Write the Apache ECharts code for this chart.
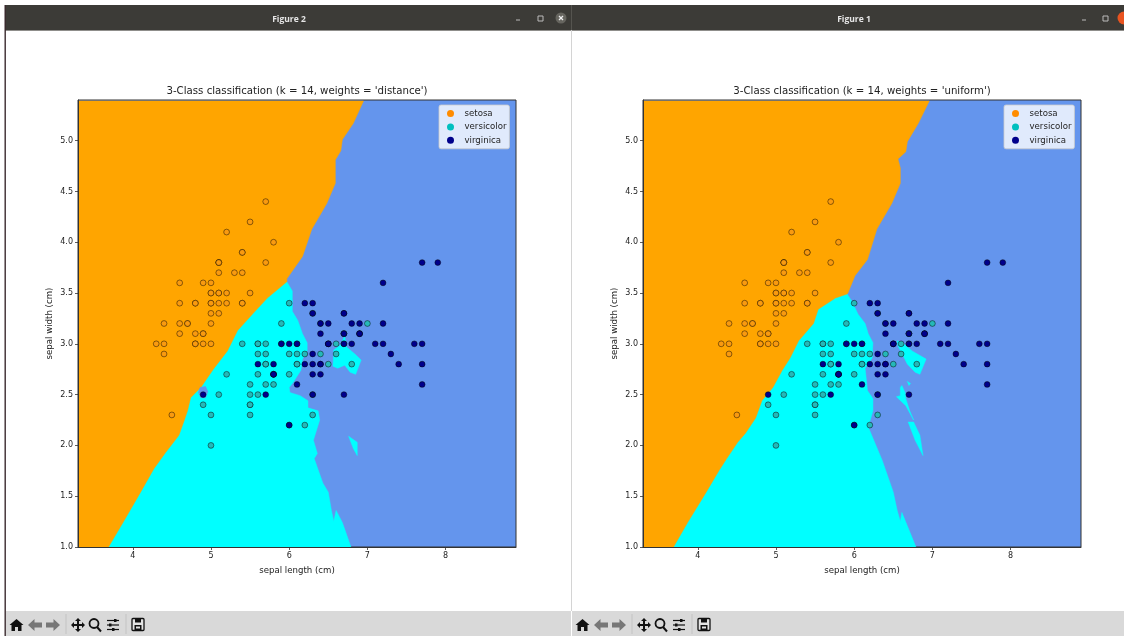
<!DOCTYPE html>
<html><head><meta charset="utf-8">
<style>html,body{margin:0;padding:0;background:#fff;overflow:hidden}#c{width:1124px;height:636px}</style>
<script src="https://cdn.jsdelivr.net/npm/echarts@6/dist/echarts.min.js"></script>
</head><body><div id="c"></div>
<script>
const setosa=[[5.1,3.5],[4.9,3.0],[4.7,3.2],[4.6,3.1],[5.0,3.6],[5.4,3.9],[4.6,3.4],[5.0,3.4],[4.4,2.9],[4.9,3.1],[5.4,3.7],[4.8,3.4],[4.8,3.0],[4.3,3.0],[5.8,4.0],[5.7,4.4],[5.4,3.9],[5.1,3.5],[5.7,3.8],[5.1,3.8],[5.4,3.4],[5.1,3.7],[4.6,3.6],[5.1,3.3],[4.8,3.4],[5.0,3.0],[5.0,3.4],[5.2,3.5],[5.2,3.4],[4.7,3.2],[4.8,3.1],[5.4,3.4],[5.2,4.1],[5.5,4.2],[4.9,3.1],[5.0,3.2],[5.5,3.5],[4.9,3.6],[4.4,3.0],[5.1,3.4],[5.0,3.5],[4.5,2.3],[4.4,3.2],[5.0,3.5],[5.1,3.8],[4.8,3.0],[5.1,3.8],[4.6,3.2],[5.3,3.7],[5.0,3.3]];
const versicolor=[[7.0,3.2],[6.4,3.2],[6.9,3.1],[5.5,2.3],[6.5,2.8],[5.7,2.8],[6.3,3.3],[4.9,2.4],[6.6,2.9],[5.2,2.7],[5.0,2.0],[5.9,3.0],[6.0,2.2],[6.1,2.9],[5.6,2.9],[6.7,3.1],[5.6,3.0],[5.8,2.7],[6.2,2.2],[5.6,2.5],[5.9,3.2],[6.1,2.8],[6.3,2.5],[6.1,2.8],[6.4,2.9],[6.6,3.0],[6.8,2.8],[6.7,3.0],[6.0,2.9],[5.7,2.6],[5.5,2.4],[5.5,2.4],[5.8,2.7],[6.0,2.7],[5.4,3.0],[6.0,3.4],[6.7,3.1],[6.3,2.3],[5.6,3.0],[5.5,2.5],[5.5,2.6],[6.1,3.0],[5.8,2.6],[5.0,2.3],[5.6,2.7],[5.7,3.0],[5.7,2.9],[6.2,2.9],[5.1,2.5],[5.7,2.8]];
const virginica=[[6.3,3.3],[5.8,2.7],[7.1,3.0],[6.3,2.9],[6.5,3.0],[7.6,3.0],[4.9,2.5],[7.3,2.9],[6.7,2.5],[7.2,3.6],[6.5,3.2],[6.4,2.7],[6.8,3.0],[5.7,2.5],[5.8,2.8],[6.4,3.2],[6.5,3.0],[7.7,3.8],[7.7,2.6],[6.0,2.2],[6.9,3.2],[5.6,2.8],[7.7,2.8],[6.3,2.7],[6.7,3.3],[7.2,3.2],[6.2,2.8],[6.1,3.0],[6.4,2.8],[7.2,3.0],[7.4,2.8],[7.9,3.8],[6.4,2.8],[6.3,2.8],[6.1,2.6],[7.7,3.0],[6.3,3.4],[6.4,3.1],[6.0,3.0],[6.9,3.1],[6.7,3.1],[6.9,3.1],[5.8,2.7],[6.8,3.2],[6.7,3.3],[6.7,3.0],[6.3,2.5],[6.5,3.0],[6.2,3.4],[5.9,3.0]];
const xTicks=[4,5,6,7,8];
const yTicks=[1,1.5,2,2.5,3,3.5,4,4.5,5];
const classNames=['setosa','versicolor','virginica'];

// decision regions, in (sepal length, sepal width)
const distOrange=[[3.3,1],[3.3,5.39],[6.95,5.39],[6.82,5.17],[6.68,5.01],[6.66,4.90],[6.59,4.81],[6.59,4.58],[6.48,4.38],[6.29,4.13],[6.17,3.86],[5.97,3.64],[5.97,3.61],[5.72,3.45],[5.54,3.30],[5.34,3.13],[5.21,2.93],[5.03,2.75],[4.87,2.57],[4.74,2.47],[4.70,2.34],[4.66,2.25],[4.59,2.10],[4.42,1.93],[4.27,1.77],[4.10,1.54],[3.89,1.26],[3.69,1.0]];
const distCyan=[[3.3,1],[3.3,3.61],[5.97,3.61],[6.04,3.52],[6.04,3.32],[6.11,3.23],[6.17,3.10],[6.23,3.01],[6.23,2.93],[6.17,2.85],[6.15,2.74],[6.05,2.62],[6.00,2.57],[6.01,2.52],[6.14,2.49],[6.24,2.44],[6.24,2.37],[6.37,2.34],[6.39,2.25],[6.31,2.05],[6.36,1.92],[6.32,1.87],[6.43,1.63],[6.50,1.54],[6.54,1.36],[6.57,1.25],[6.60,1.36],[6.68,1.24],[6.79,1.0]];
const distIslandA=[[6.71,3.08],[6.66,2.99],[6.57,2.94],[6.56,2.78],[6.62,2.76],[6.71,2.79],[6.78,2.72],[6.85,2.70],[6.92,2.84],[6.84,2.90],[6.73,2.97]];
const distIslandB=[[6.76,2.09],[6.87,2.03],[6.87,1.90],[6.82,1.97]];
const distBlueBlob=[[4.84,2.52],[4.86,2.57],[4.93,2.58],[4.96,2.53],[4.93,2.47],[4.87,2.47]];
const unifOrange=[[3.3,1],[3.3,5.39],[6.96,5.39],[6.82,5.17],[6.68,4.99],[6.66,4.89],[6.56,4.82],[6.59,4.73],[6.59,4.58],[6.48,4.38],[6.29,4.13],[6.17,3.83],[6.01,3.67],[5.92,3.50],[5.91,3.49],[5.76,3.45],[5.54,3.34],[5.48,3.20],[5.29,3.03],[5.18,2.86],[5.08,2.74],[4.96,2.57],[4.82,2.44],[4.74,2.27],[4.61,2.12],[4.51,2.03],[4.37,1.87],[4.27,1.75],[4.10,1.53],[3.87,1.24],[3.69,1.0]];
const unifCyan=[[3.3,1],[3.3,3.49],[5.91,3.49],[5.97,3.42],[6.05,3.29],[6.14,3.20],[6.18,3.10],[6.24,3.01],[6.23,2.86],[6.14,2.76],[6.17,2.54],[6.24,2.46],[6.24,2.34],[6.18,2.18],[6.36,1.85],[6.50,1.54],[6.55,1.36],[6.59,1.25],[6.61,1.34],[6.79,1.0]];
const unifIsland1=[[6.55,3.03],[6.62,3.01],[6.74,2.93],[6.92,2.85],[6.84,2.70],[6.78,2.72],[6.68,2.80],[6.56,2.98]];
const unifIsland2=[[6.61,2.59],[6.65,2.52],[6.66,2.46],[6.71,2.34],[6.76,2.25],[6.66,2.39],[6.54,2.48],[6.59,2.49],[6.59,2.57]];
const unifIsland3=[[6.69,2.23],[6.76,2.23],[6.84,2.10],[6.88,1.90],[6.78,2.05]];
const unifIsland4=[[6.68,2.63],[6.72,2.61],[6.70,2.59]];

const ORANGE='#ffa500',CYAN='#00ffff',BLUE='#6495ed';
const FONT='"DejaVu Sans"';
function region(name,pts,color,idx,z){
  return {type:'custom',name,coordinateSystem:'cartesian2d',xAxisIndex:idx,yAxisIndex:idx,z,clip:true,silent:true,
    encode:{x:0,y:1},data:pts,
    renderItem(p,api){
      if(p.dataIndex!==0)return null;
      return {type:'polygon',shape:{points:pts.map(q=>api.coord(q))},style:{fill:color,stroke:color,lineWidth:0.5}};
    }};
}
function dots(name,pts,color,idx){
  return {type:'scatter',name,xAxisIndex:idx,yAxisIndex:idx,z:4,symbol:'circle',symbolSize:5.8,data:pts,silent:true,
    itemStyle:{color,opacity:1,borderColor:'rgba(0,0,0,0.45)',borderWidth:1}};
}
const series=[
 region('cyanD',distCyan,CYAN,0,1),region('orangeD',distOrange,ORANGE,0,2),
 region('islandA',distIslandA,CYAN,0,2),region('islandB',distIslandB,CYAN,0,2),region('blobD',distBlueBlob,BLUE,0,3),
 region('cyanU',unifCyan,CYAN,1,1),region('orangeU',unifOrange,ORANGE,1,2),
 region('island1',unifIsland1,CYAN,1,2),region('island2',unifIsland2,CYAN,1,2),region('island3',unifIsland3,CYAN,1,2),region('island4',unifIsland4,CYAN,1,2),
];
[0,1].forEach(i=>{
  series.push(dots(classNames[0],setosa,'#f99a10',i));
  series.push(dots(classNames[1],versicolor,'#25b8b8',i));
  series.push(dots(classNames[2],virginica,'#00008b',i));
});
const legendColors=['#ff8c00','#00bfbf','#00008b'];
function legend(left){
  return {left,top:105,orient:'vertical',padding:[4,3,4,8],itemGap:4.4,itemWidth:18,itemHeight:7,icon:'circle',
    backgroundColor:'rgba(255,255,255,0.8)',borderColor:'rgba(204,204,204,0.8)',borderWidth:1,borderRadius:2,selectedMode:false,
    textStyle:{fontFamily:FONT,fontSize:8.6,color:'#222',padding:0},
    data:classNames.map((n,k)=>({name:n,itemStyle:{color:legendColors[k],borderWidth:0,opacity:1}}))};
}
function xAxis(i){return {type:'value',gridIndex:i,min:3.3,max:8.9,z:6,name:'sepal length (cm)',nameLocation:'middle',nameGap:19,
  nameTextStyle:{fontFamily:FONT,fontSize:8.6,color:'#222'},splitLine:{show:false},
  axisLine:{onZero:false,lineStyle:{color:'#333',width:1}},
  axisTick:{customValues:xTicks,length:3,lineStyle:{color:'#333',width:0.8}},
  axisLabel:{customValues:xTicks,fontFamily:FONT,fontSize:8,color:'#222',margin:5,formatter:v=>String(v)}};}
function yAxis(i){return {type:'value',gridIndex:i,min:1,max:5.4,z:6,name:'sepal width (cm)',nameLocation:'middle',nameGap:24,
  nameTextStyle:{fontFamily:FONT,fontSize:8.6,color:'#222'},splitLine:{show:false},
  axisLine:{onZero:false,lineStyle:{color:'#333',width:1}},
  axisTick:{customValues:yTicks,length:3,lineStyle:{color:'#333',width:0.8}},
  axisLabel:{customValues:yTicks,fontFamily:FONT,fontSize:8,color:'#222',margin:5,formatter:v=>v.toFixed(1)}};}

// window furniture
const BAR='#3c3b37',ICON='#111',GREY='#777';
function rect(x,y,w,h,fill,z){return {type:'rect',silent:true,z:z||0,shape:{x,y,width:w,height:h},style:{fill}};}
function poly(x,y,pts,fill){return {type:'polygon',silent:true,z:2,x,y,shape:{points:pts},style:{fill:fill||ICON}};}
const P={home:[[7,1],[14,7],[12,7],[12,13],[8.5,13],[8.5,9],[5.5,9],[5.5,13],[2,13],[2,7],[0,7]],
 left:[[0,7],[6.5,1],[6.5,4.5],[14,4.5],[14,9.5],[6.5,9.5],[6.5,13]],right:[[14,7],[7.5,1],[7.5,4.5],[0,4.5],[0,9.5],[7.5,9.5],[7.5,13]],
 move:[[7,0],[10,3],[8,3],[8,6],[11,6],[11,4],[14,7],[11,10],[11,8],[8,8],[8,11],[10,11],[7,14],[4,11],[6,11],[6,8],[3,8],[3,10],[0,7],[3,4],[3,6],[6,6],[6,3],[4,3]]};
function line(x1,y1,x2,y2,c,w){return {type:'line',silent:true,z:2,shape:{x1,y1,x2,y2},style:{stroke:c,lineWidth:w}};}
function toolbar(o){
  const y=618,e=[];
  e.push(poly(o+3.5,y,P.home));
  e.push(poly(o+22,y,P.left,GREY));
  e.push(poly(o+40,y,P.right,GREY));
  e.push(rect(o+59.5,y-4,1,20,'#c4c4c4',1));
  e.push(poly(o+65,y,P.move));
  e.push({type:'circle',silent:true,z:2,shape:{cx:o+88,cy:y+5.5,r:4.5},style:{fill:null,stroke:ICON,lineWidth:1.8}});
  e.push(line(o+91,y+9,o+95,y+13.5,ICON,2));
  e.push(line(o+101,y+2.5,o+113,y+2.5,ICON,1.2));
  e.push(line(o+101,y+7,o+113,y+7,ICON,1.2));
  e.push(line(o+101,y+11.5,o+113,y+11.5,ICON,1.2));
  e.push(rect(o+108,y+1,2.5,3,ICON,3));e.push(rect(o+103,y+5.5,2.5,3,ICON,3));e.push(rect(o+106,y+10,2.5,3,ICON,3));
  e.push(rect(o+119.5,y-4,1,20,'#c4c4c4',1));
  e.push({type:'rect',silent:true,z:2,shape:{x:o+126,y:y+0.5,width:12,height:12,r:1},style:{fill:'#e4e4e4',stroke:ICON,lineWidth:1.3}});
  e.push(rect(o+129,y+1,6,3.5,ICON,3));e.push(rect(o+128.5,y+7,7,5,ICON,3));e.push(rect(o+130,y+8.5,4,2,'#e4e4e4',4));
  return e;
}
function figTitle(t,cx){return {type:'text',silent:true,z:3,x:cx,y:19.5,style:{text:t,fill:'#e6e6e6',font:'bold 8.5px "Open Sans"',textAlign:'center',textVerticalAlign:'middle'}};}
const elements=[
  rect(5,5,1119,25,BAR),rect(5,30,1119,0.8,'#6a6964'),rect(4.5,5,1.4,631,'#3a2a2e'),
  rect(571,30,1,581,'#d4d4d4'),rect(571,5,1,25,'#55544f',1),
  rect(6,611,565,25,'#d9d9d9'),rect(572,611,552,25,'#d9d9d9'),
  figTitle('Figure 2',289),figTitle('Figure 1',854),
  line(516,20,520,20,'#bbb',1),
  {type:'rect',silent:true,z:2,shape:{x:538,y:16,width:5,height:5},style:{fill:null,stroke:'#bbb',lineWidth:1}},
  {type:'circle',silent:true,z:2,shape:{cx:561,cy:18,r:5.5},style:{fill:'#66655f'}},
  line(559,16,563,20,'#eee',1.2),line(563,16,559,20,'#eee',1.2),
  line(1082,20,1086,20,'#bbb',1),
  {type:'rect',silent:true,z:2,shape:{x:1103,y:16,width:5,height:5},style:{fill:null,stroke:'#bbb',lineWidth:1}},
  {type:'circle',silent:true,z:2,shape:{cx:1124,cy:18,r:6.5},style:{fill:'#e95420'}},
  ...toolbar(6),...toolbar(572)
];
const tStyle={fontFamily:FONT,fontSize:10.2,fontWeight:'normal',color:'#222'};
const chart=echarts.init(document.getElementById('c'),null,{renderer:'canvas'});
chart.setOption({animation:false,backgroundColor:'#fff',tooltip:{show:false},
  title:[
   {text:"3-Class classification (k = 14, weights = 'distance')",left:297,top:86,textAlign:'center',textStyle:tStyle,padding:0},
   {text:"3-Class classification (k = 14, weights = 'uniform')",left:862,top:86,textAlign:'center',textStyle:tStyle,padding:0}],
  grid:[{left:78,top:100,width:438,height:447,show:true,backgroundColor:BLUE,borderColor:'#333',borderWidth:1},
        {left:643,top:100,width:438,height:447,show:true,backgroundColor:BLUE,borderColor:'#333',borderWidth:1}],
  xAxis:[xAxis(0),xAxis(1)],yAxis:[yAxis(0),yAxis(1)],
  legend:[legend(439),legend(1004)],
  series,
  graphic:{elements}
});
</script></body></html>
